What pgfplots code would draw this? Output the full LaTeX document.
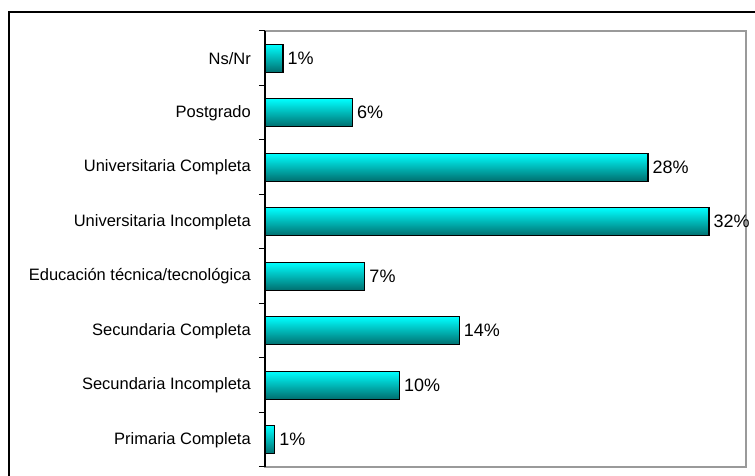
\documentclass[border=0pt]{standalone}
\usepackage{pgfplots}
\pgfplotsset{compat=1.18}
\usepackage{fontspec}
\setmainfont{Liberation Sans}
\definecolor{barTop}{HTML}{00FFFF}
\definecolor{barBot}{HTML}{006E6E}
\definecolor{frameGray}{HTML}{9A9A9A}
\newcommand{\lblfont}{\fontsize{16.5}{19}\selectfont}
\newcommand{\valfont}{\fontsize{18}{21}\selectfont}
\pgfplotsset{
  cylbar/.style={draw=black, line width=1.2pt, top color=barTop, bottom color=barBot},
}
\begin{document}
\begin{tikzpicture}[x=1pt,y=1pt]
\useasboundingbox (0,0) rectangle (755,476);
% outer frame (cropped on right and bottom)
\draw[black, line width=2pt] (9,-10) -- (9,464) -- (770,464);
\begin{axis}[
  at={(265pt,9pt)}, anchor=south west,
  scale only axis, width=481pt, height=436pt,
  xmin=0, xmax=34.67, ymin=0.5, ymax=8.5,
  xtick=\empty,
  ytick={1,...,8},
  yticklabels={Primaria Completa, Secundaria Incompleta, Secundaria Completa,
    Educación técnica/tecnológica, Universitaria Incompleta,
    Universitaria Completa, Postgrado, Ns/Nr},
  major tick length=0pt,
  tick pos=left,
  extra y ticks={0.5,1.5,2.5,3.5,4.5,5.5,6.5,7.5,8.5},
  extra y tick labels={},
  extra y tick style={major tick length=6pt, tick align=outside,
    tick style={black, line width=1pt}},
  yticklabel style={font=\lblfont, inner sep=0pt, xshift=-14pt},
  axis line style={draw=frameGray, line width=1.5pt},
  xbar, bar width=28pt, bar shift=0pt,
  point meta=explicit symbolic,
  nodes near coords,
  every node near coord/.append style={font=\valfont, anchor=west, inner sep=4pt},
  clip=false,
]
% one plot per bar so that each bar gets its own shading
\addplot[cylbar] coordinates {(0.7,1) [1\%]};
\addplot[cylbar] coordinates {(9.7,2) [10\%]};
\addplot[cylbar] coordinates {(14.0,3) [14\%]};
\addplot[cylbar] coordinates {(7.2,4) [7\%]};
\addplot[cylbar] coordinates {(32.0,5) [32\%]};
\addplot[cylbar] coordinates {(27.6,6) [28\%]};
\addplot[cylbar] coordinates {(6.3,7) [6\%]};
\addplot[cylbar] coordinates {(1.3,8) [1\%]};
\draw[black, line width=1.5pt] (rel axis cs:0,0) -- (rel axis cs:0,1);
\end{axis}
\end{tikzpicture}
\end{document}
